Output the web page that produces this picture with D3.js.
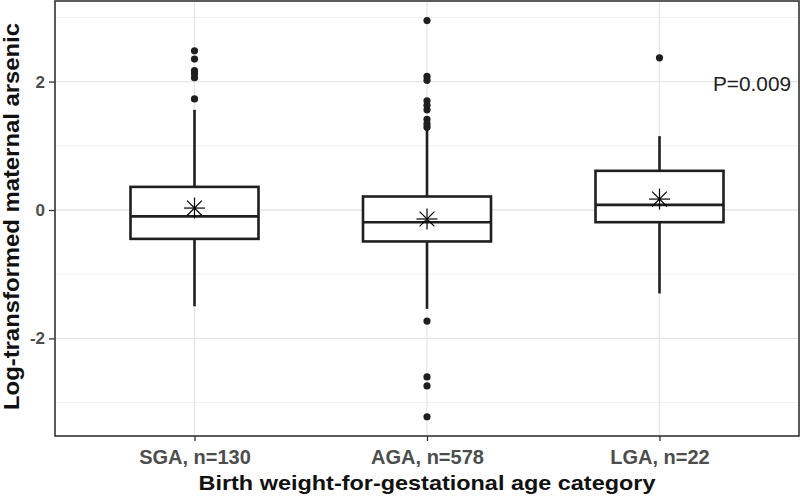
<!DOCTYPE html>
<html>
<head>
<meta charset="utf-8">
<script src="https://cdn.jsdelivr.net/npm/d3@7"></script>
<style>
  html, body { margin: 0; padding: 0; background: #fff; }
  svg { display: block; }
  text { font-family: "Liberation Sans", Arial, Helvetica, sans-serif; }
</style>
</head>
<body>
<svg id="chart" width="800" height="496"></svg>
<script>
// ---- data ----
const categories = ["SGA, n=130", "AGA, n=578", "LGA, n=22"];
const whiskerLow  = [-1.50, -1.54, -1.30];
const q1          = [-0.45, -0.49, -0.19];
const median      = [-0.10, -0.19,  0.08];
const q3          = [ 0.36,  0.21,  0.61];
const whiskerHigh = [ 1.56,  1.26,  1.15];
const means       = [ 0.03, -0.14,  0.17];
const outliers = [
  [2.48, 2.35, 2.17, 2.12, 2.06, 1.73],
  [2.95, 2.08, 2.02, 1.70, 1.63, 1.56, 1.41, 1.34, 1.29, -1.73, -2.60, -2.74, -3.22],
  [2.37]
];
const yTicks = [-2, 0, 2];
const yMinor = [-3, -1, 1, 3];
const pLabel = "P=0.009";
const xTitle = "Birth weight-for-gestational age category";
const yTitle = "Log-transformed maternal arsenic";

// ---- layout ----
const svg = d3.select("#chart");
const panel = { left: 55, right: 799, top: 1, bottom: 436 };

const x = d3.scaleLinear().domain([0.4, 3.6]).range([panel.left, panel.right]);
const y = d3.scaleLinear().domain([-3.52, 3.255]).range([panel.bottom, panel.top]);
const boxHalf = 64;

const g = svg.append("g");

// grid
g.selectAll(".minor").data(yMinor).enter().append("line")
  .attr("x1", panel.left).attr("x2", panel.right)
  .attr("y1", d => y(d)).attr("y2", d => y(d))
  .attr("stroke", "#f0f0f0").attr("stroke-width", 1);
g.selectAll(".major").data(yTicks).enter().append("line")
  .attr("x1", panel.left).attr("x2", panel.right)
  .attr("y1", d => y(d)).attr("y2", d => y(d))
  .attr("stroke", "#e6e6e6").attr("stroke-width", 1.3);
g.selectAll(".vmajor").data(categories).enter().append("line")
  .attr("x1", (d, i) => x(i + 1)).attr("x2", (d, i) => x(i + 1))
  .attr("y1", panel.top).attr("y2", panel.bottom)
  .attr("stroke", "#e6e6e6").attr("stroke-width", 1.3);

const ink = "#1f1f1f";
const lw = 2.6;

categories.forEach((c, i) => {
  const cx = x(i + 1);
  // whiskers
  g.append("line").attr("x1", cx).attr("x2", cx)
    .attr("y1", y(q3[i])).attr("y2", y(whiskerHigh[i]))
    .attr("stroke", ink).attr("stroke-width", lw);
  g.append("line").attr("x1", cx).attr("x2", cx)
    .attr("y1", y(q1[i])).attr("y2", y(whiskerLow[i]))
    .attr("stroke", ink).attr("stroke-width", lw);
  // box
  g.append("rect")
    .attr("x", cx - boxHalf).attr("width", boxHalf * 2)
    .attr("y", y(q3[i])).attr("height", y(q1[i]) - y(q3[i]))
    .attr("fill", "#fff").attr("stroke", ink).attr("stroke-width", lw);
  // median
  g.append("line").attr("x1", cx - boxHalf).attr("x2", cx + boxHalf)
    .attr("y1", y(median[i])).attr("y2", y(median[i]))
    .attr("stroke", ink).attr("stroke-width", lw);
  // outliers
  g.selectAll(null).data(outliers[i]).enter().append("circle")
    .attr("cx", cx).attr("cy", d => y(d)).attr("r", 3.6)
    .attr("fill", ink);
  // mean asterisk
  const my = y(means[i]);
  const r = 10.5, rd = 7.4;
  const star = g.append("g").attr("stroke", "#000").attr("stroke-width", 1.2);
  star.append("line").attr("x1", cx - r).attr("x2", cx + r).attr("y1", my).attr("y2", my);
  star.append("line").attr("x1", cx).attr("x2", cx).attr("y1", my - r).attr("y2", my + r);
  star.append("line").attr("x1", cx - rd).attr("x2", cx + rd).attr("y1", my - rd).attr("y2", my + rd);
  star.append("line").attr("x1", cx - rd).attr("x2", cx + rd).attr("y1", my + rd).attr("y2", my - rd);
});

// annotation
g.append("text").attr("x", 713).attr("y", 91)
  .attr("font-size", 21).attr("fill", "#222")
  .attr("textLength", 78).attr("lengthAdjust", "spacingAndGlyphs")
  .text(pLabel);

// panel border
g.append("rect").attr("x", panel.left).attr("y", panel.top)
  .attr("width", panel.right - panel.left).attr("height", panel.bottom - panel.top)
  .attr("fill", "none").attr("stroke", "#333").attr("stroke-width", 1.6);

// y axis
const yAxis = d3.axisLeft(y).tickValues(yTicks).tickSize(6).tickPadding(4)
  .tickFormat(d => d3.format("d")(d).replace("−", "-"));
const ya = svg.append("g").attr("transform", `translate(${panel.left},0)`).call(yAxis);
ya.select(".domain").remove();
ya.selectAll(".tick line").attr("stroke", "#333").attr("stroke-width", 1.3);
ya.selectAll(".tick text").attr("font-size", 17).attr("font-weight", "bold")
  .attr("fill", "#4d4d4d").attr("font-family", "Liberation Sans, Arial, sans-serif");

// x axis
const xAxis = d3.axisBottom(x).tickValues([1, 2, 3]).tickSize(5).tickPadding(9)
  .tickFormat(d => categories[d - 1]);
const xa = svg.append("g").attr("transform", `translate(0,${panel.bottom})`).call(xAxis);
xa.select(".domain").remove();
xa.selectAll(".tick line").attr("stroke", "#333").attr("stroke-width", 1.3);
xa.selectAll(".tick text").attr("font-size", 20).attr("font-weight", "bold")
  .attr("fill", "#4d4d4d").attr("font-family", "Liberation Sans, Arial, sans-serif")
  .attr("dy", null).attr("y", 28.3);

// titles
svg.append("text").attr("x", x(2)).attr("y", 489.5)
  .attr("text-anchor", "middle").attr("font-size", 20.5).attr("font-weight", "bold")
  .attr("fill", "#111").attr("textLength", 457).attr("lengthAdjust", "spacingAndGlyphs")
  .text(xTitle);
svg.append("text").attr("transform", "translate(18.5,216.5) rotate(-90)")
  .attr("text-anchor", "middle").attr("font-size", 21.5).attr("font-weight", "bold")
  .attr("fill", "#111").attr("textLength", 387).attr("lengthAdjust", "spacingAndGlyphs")
  .text(yTitle);
</script>
</body>
</html>
